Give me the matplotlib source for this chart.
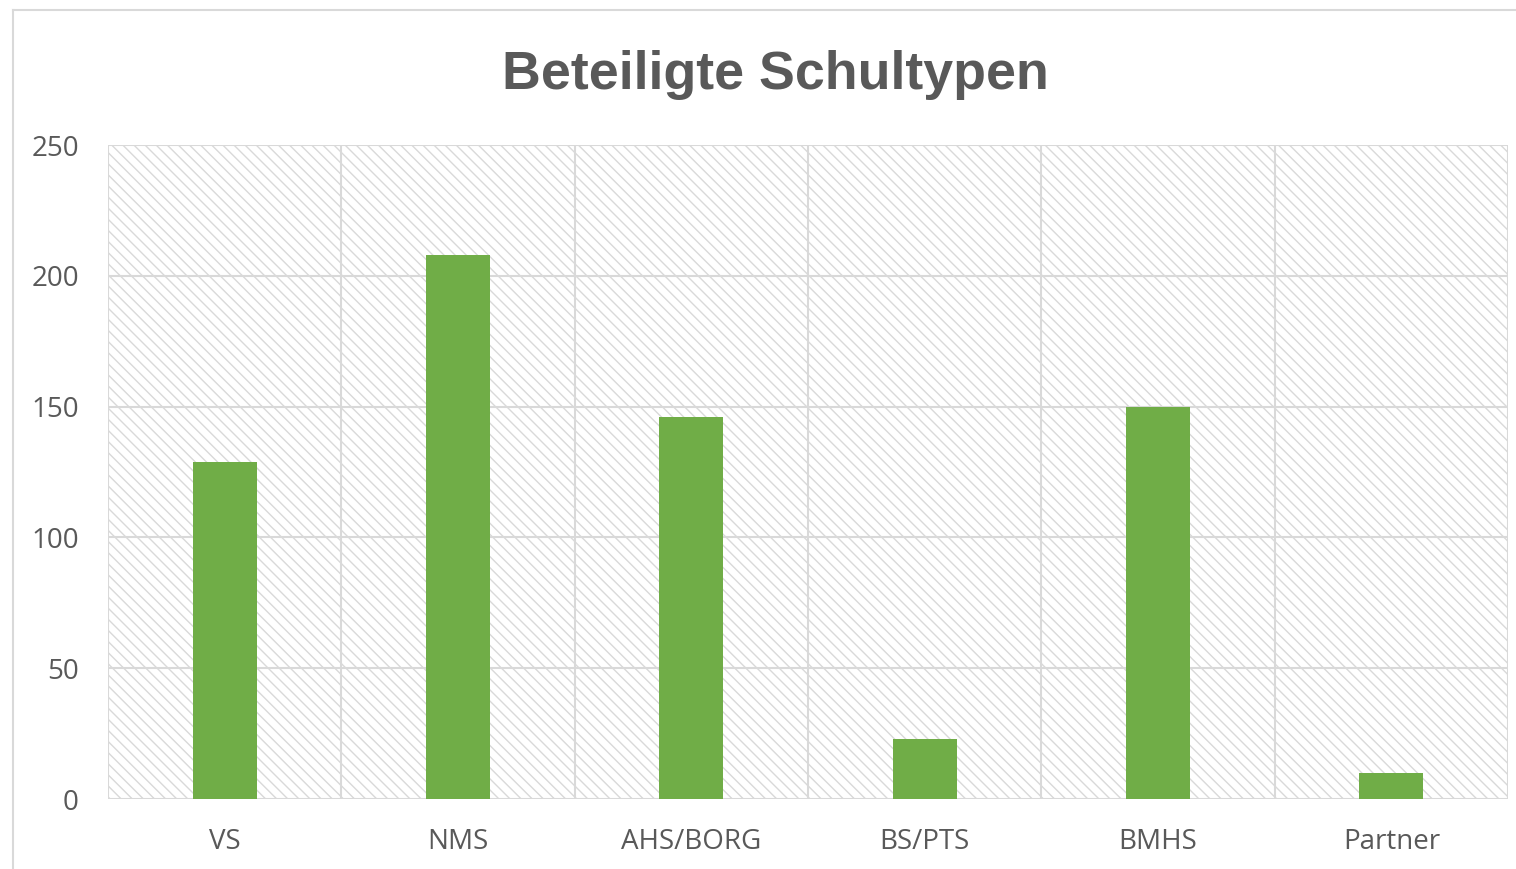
import matplotlib
matplotlib.use("Agg")
import matplotlib.pyplot as plt
from matplotlib.patches import Rectangle
from matplotlib.lines import Line2D

categories = ["VS", "NMS", "AHS/BORG", "BS/PTS", "BMHS", "Partner"]
values = [129, 208, 146, 23, 150, 10]
yticks = [0, 50, 100, 150, 200, 250]

W, H = 1516, 869
fig = plt.figure(figsize=(W / 100, H / 100), dpi=100)
plt.rcParams['hatch.color'] = '#d9d9d9'
plt.rcParams['hatch.linewidth'] = 1.0

ax = fig.add_axes([108 / W, 1 - 799 / H, 1400 / W, 654 / H])
ax.set_xlim(0, len(categories))
ax.set_ylim(0, 250)

# hatched background
bg = Rectangle((0, 0), 1, 1, transform=ax.transAxes, facecolor='white',
               edgecolor='#d9d9d9', hatch='\\' * 3, linewidth=0, zorder=0)
ax.add_patch(bg)

# grid
for y in yticks:
    ax.axhline(y, color='#d9d9d9', lw=1.5, zorder=1)
for x in range(len(categories) + 1):
    ax.axvline(x, color='#d9d9d9', lw=1.5, zorder=1)

xs = [i + 0.5 for i in range(len(categories))]
ax.bar(xs, values, width=0.274, color='#70ad47', zorder=3)

for s in ax.spines.values():
    s.set_visible(False)

ax.set_xticks(xs)
ax.set_xticklabels(categories)
ax.set_yticks(yticks)
ax.tick_params(length=0, colors='#595959', labelsize=20)
for lab in ax.get_xticklabels() + ax.get_yticklabels():
    lab.set_fontfamily('Open Sans')
ax.tick_params(axis='y', pad=21)
ax.tick_params(axis='x', pad=21)

fig.text(775 / W, 1 - 75 / H, "Beteiligte Schultypen", ha='center', va='center',
         fontsize=38.7, fontweight='bold', color='#595959', family='Liberation Sans')

# outer chart border (top and left visible)
fig.add_artist(Line2D([13 / W, 1.0], [1 - 10 / H, 1 - 10 / H], transform=fig.transFigure,
                      color='#d9d9d9', lw=1.5))
fig.add_artist(Line2D([13 / W, 13 / W], [0, 1 - 10 / H], transform=fig.transFigure,
                      color='#d9d9d9', lw=1.5))

fig.savefig("out.png", dpi=100)
